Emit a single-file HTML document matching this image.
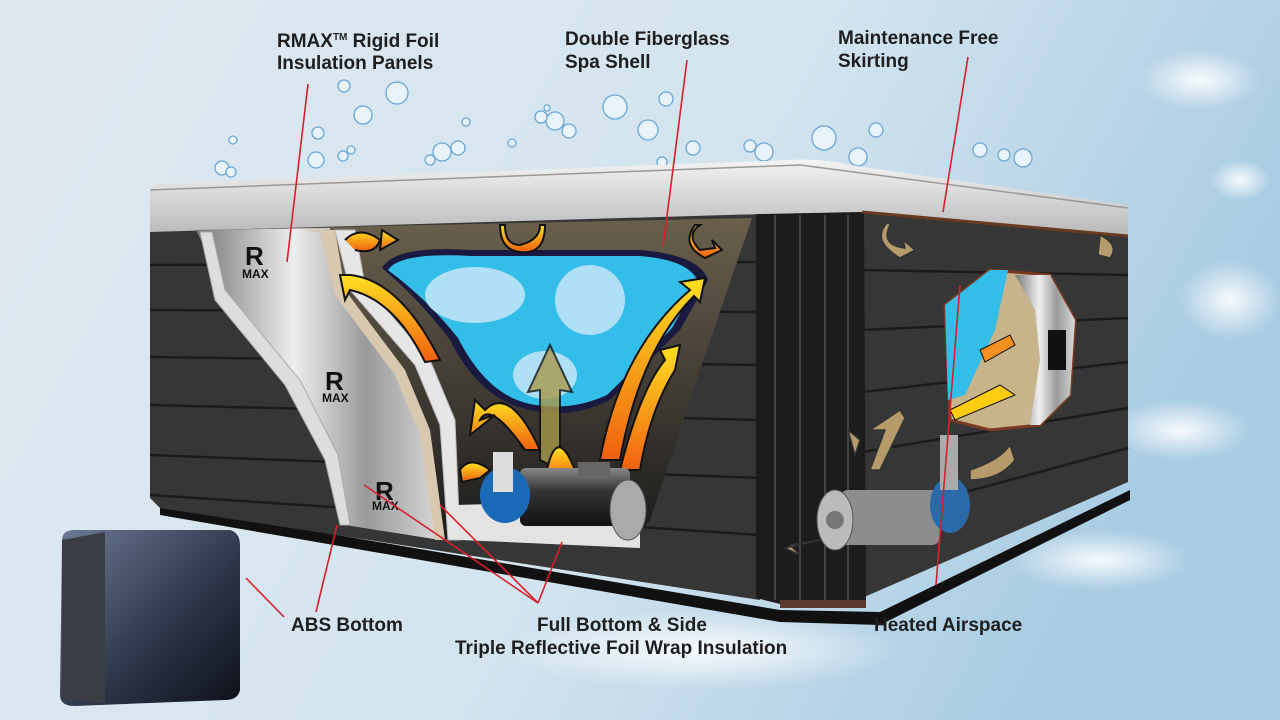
<!DOCTYPE html>
<html><head><meta charset="utf-8"><style>
html,body{margin:0;padding:0;width:1280px;height:720px;overflow:hidden}
text{font-family:"Liberation Sans",sans-serif;font-weight:bold;font-size:19px;fill:#1e1e1e}
</style></head><body>
<svg width="1280" height="720" viewBox="0 0 1280 720" xmlns="http://www.w3.org/2000/svg">
<defs>
<linearGradient id="bg" x1="0" y1="0" x2="1" y2="0.3">
<stop offset="0" stop-color="#dfe9f1"/><stop offset="0.6" stop-color="#d3e4ef"/><stop offset="1" stop-color="#a9cde3"/></linearGradient>
<radialGradient id="glow" cx="0.5" cy="0.5" r="0.5"><stop offset="0" stop-color="#fff" stop-opacity="0.9"/><stop offset="1" stop-color="#fff" stop-opacity="0"/></radialGradient>
<linearGradient id="rim" x1="0" y1="0" x2="0" y2="1"><stop offset="0" stop-color="#f4f4f4"/><stop offset="1" stop-color="#b8b8b8"/></linearGradient>
<linearGradient id="silver" x1="0" y1="0" x2="1" y2="0"><stop offset="0" stop-color="#777"/><stop offset="0.4" stop-color="#eee"/><stop offset="0.7" stop-color="#9a9a9a"/><stop offset="1" stop-color="#d8d8d8"/></linearGradient>
<linearGradient id="flame" x1="0" y1="1" x2="0" y2="0"><stop offset="0" stop-color="#f06010"/><stop offset="1" stop-color="#ffe020"/></linearGradient>
<linearGradient id="inner" x1="0" y1="0" x2="0" y2="1"><stop offset="0" stop-color="#6a604c"/><stop offset="0.6" stop-color="#3a3630"/><stop offset="1" stop-color="#1a1a1a"/></linearGradient>
<linearGradient id="box" x1="0" y1="0" x2="1" y2="1"><stop offset="0" stop-color="#6a7a94"/><stop offset="0.6" stop-color="#2a3346"/><stop offset="1" stop-color="#0d1018"/></linearGradient>
<linearGradient id="motor" x1="0" y1="0" x2="0" y2="1"><stop offset="0" stop-color="#888"/><stop offset="0.4" stop-color="#333"/><stop offset="1" stop-color="#111"/></linearGradient>
</defs>
<rect width="1280" height="720" fill="url(#bg)"/>
<g fill="url(#glow)">
<ellipse cx="1200" cy="80" rx="60" ry="30"/><ellipse cx="1230" cy="300" rx="50" ry="40"/><ellipse cx="1180" cy="430" rx="70" ry="30"/>
<ellipse cx="1100" cy="560" rx="90" ry="30"/><ellipse cx="1240" cy="180" rx="30" ry="20"/><ellipse cx="700" cy="650" rx="200" ry="40"/>
</g>
<g fill="#e8f3fb" stroke="#6aa6d6" stroke-width="1.3">
<circle cx="397" cy="93" r="11"/><circle cx="363" cy="115" r="9"/><circle cx="344" cy="86" r="6"/><circle cx="318" cy="133" r="6"/><circle cx="316" cy="160" r="8"/><circle cx="343" cy="156" r="5"/><circle cx="351" cy="150" r="4"/>
<circle cx="222" cy="168" r="7"/><circle cx="233" cy="140" r="4"/><circle cx="231" cy="172" r="5"/><circle cx="442" cy="152" r="9"/><circle cx="458" cy="148" r="7"/><circle cx="430" cy="160" r="5"/><circle cx="466" cy="122" r="4"/><circle cx="512" cy="143" r="4"/>
<circle cx="615" cy="107" r="12"/><circle cx="648" cy="130" r="10"/><circle cx="666" cy="99" r="7"/><circle cx="555" cy="121" r="9"/><circle cx="569" cy="131" r="7"/><circle cx="541" cy="117" r="6"/><circle cx="547" cy="108" r="3"/>
<circle cx="693" cy="148" r="7"/><circle cx="824" cy="138" r="12"/><circle cx="876" cy="130" r="7"/><circle cx="858" cy="157" r="9"/><circle cx="764" cy="152" r="9"/><circle cx="750" cy="146" r="6"/><circle cx="980" cy="150" r="7"/><circle cx="1004" cy="155" r="6"/><circle cx="1023" cy="158" r="9"/><circle cx="662" cy="162" r="5"/>
</g>
<path d="M160,505 L780,610 L880,612 L1130,490 L1130,500 L880,625 L780,622 L160,515Z" fill="#111"/>
<path d="M150,228 L760,214 L760,600 L160,508 L150,498Z" fill="#363636"/>
<g stroke="#1b1b1b" stroke-width="2.5">
<line x1="150" y1="265" x2="760" y2="262"/><line x1="150" y1="310" x2="760" y2="312"/><line x1="150" y1="357" x2="760" y2="365"/><line x1="150" y1="405" x2="760" y2="420"/><line x1="150" y1="455" x2="760" y2="478"/><line x1="150" y1="495" x2="760" y2="535"/>
</g>
<path d="M862,212 L1128,236 L1128,482 L862,598Z" fill="#363636"/>
<g stroke="#1b1b1b" stroke-width="2.5">
<line x1="862" y1="270" x2="1128" y2="275"/><line x1="862" y1="330" x2="1128" y2="318"/><line x1="862" y1="392" x2="1128" y2="362"/><line x1="862" y1="452" x2="1128" y2="408"/><line x1="862" y1="520" x2="1128" y2="448"/>
</g>
<path d="M756,212 L864,212 L866,602 L780,604 L756,598Z" fill="#1c1c1c"/>
<g stroke="#444" stroke-width="2"><line x1="775" y1="215" x2="775" y2="600"/><line x1="800" y1="215" x2="800" y2="602"/><line x1="825" y1="215" x2="825" y2="602"/><line x1="848" y1="215" x2="848" y2="602"/></g>
<path d="M780,600 L866,600 L866,608 L780,608Z" fill="#5a3a2a"/>
<path d="M150,190 Q150,185 160,184 L790,160 Q820,158 850,165 L1128,205 L1128,236 L860,212 L760,214 L150,232Z" fill="url(#rim)"/>
<path d="M150,190 L800,165 L1128,208" fill="none" stroke="#999" stroke-width="1.5"/>
<path d="M862,212 L1128,236" stroke="#6a3a20" stroke-width="3"/>
<path d="M196,230 L752,218 L700,370 L650,520 L630,545 L455,540 L345,525 L320,420 L235,310Z" fill="url(#inner)"/>
<path d="M196,230 L330,228 L330,260 L345,300 L395,370 L420,430 L440,540 L345,525 L320,420 L235,310Z" fill="url(#silver)"/>
<path d="M200,232 L212,232 L225,290 L300,380 L338,455 L350,525 L340,525 L325,460 L285,385 L215,300Z" fill="#ddd" stroke="#aaa"/>
<path d="M300,230 L335,230 L345,290 L405,370 L430,430 L445,540 L435,540 L420,435 L395,375 L335,295 L320,232Z" fill="#d8c8b0"/>
<path d="M335,230 L355,230 L365,285 L430,360 L455,420 L460,540 L448,540 L440,425 L415,365 L350,290Z" fill="#e6e6e6" stroke="#bbb"/>
<path d="M460,540 L455,505 L640,500 L640,548Z" fill="#e3e3e3"/>
<path d="M382,268 Q395,245 470,250 L640,250 Q700,255 708,280 L680,330 Q640,370 610,400 Q570,420 530,410 Q480,400 450,340 Q420,300 382,268Z" fill="#1a1a40"/>
<path d="M388,270 Q400,252 470,256 L640,256 Q690,260 698,282 L672,328 Q635,368 607,395 Q570,412 530,404 Q487,395 458,338 Q428,300 388,270Z" fill="#33bde9"/>
<g fill="#cfe9f8" opacity="0.8">
<ellipse cx="475" cy="295" rx="50" ry="28"/><ellipse cx="590" cy="300" rx="35" ry="35"/><ellipse cx="545" cy="375" rx="32" ry="24"/>
</g>
<g fill="url(#flame)" stroke="#111" stroke-width="2">
<path d="M540,460 L540,390 L528,392 L550,345 L572,392 L560,390 L560,470Z" fill="#a89a4a" opacity="0.8"/>
<path d="M545,480 Q555,420 575,470 L585,480Z"/>
<path d="M350,275 Q400,280 440,360 L425,362 Q395,300 350,290 L345,300 L340,275Z"/>
<path d="M525,450 Q490,400 480,420 L495,415 L470,435 L475,400 L485,410 Q510,385 540,450Z"/>
<path d="M600,460 Q620,350 690,290 L680,282 L705,278 L700,302 L694,296 Q640,350 620,460Z"/>
<path d="M620,470 Q640,390 665,360 L660,350 L680,345 L675,370 Q650,410 640,470Z"/>
<path d="M460,470 Q470,455 490,470 L480,478 L462,482Z"/>
<path d="M345,240 Q360,225 380,240 Q375,255 355,250 M382,230 L398,240 L380,250Z"/>
<path d="M505,225 Q505,245 520,245 Q540,240 540,225 L545,225 Q545,255 520,252 Q500,250 500,225Z"/>
<path d="M700,225 Q685,235 700,250 L715,248 L712,240 L722,250 L705,258 Q680,245 695,225Z"/>
</g>
<rect x="520" y="468" width="110" height="58" rx="6" fill="url(#motor)"/>
<rect x="578" y="462" width="32" height="14" fill="#666"/>
<ellipse cx="505" cy="495" rx="25" ry="28" fill="#1a6ab8"/>
<rect x="493" y="452" width="20" height="40" fill="#ddd"/>
<ellipse cx="628" cy="510" rx="18" ry="30" fill="#aaa" stroke="#555"/>
<g>
<text x="245" y="265" style="font-size:26px;fill:#111">R</text><text x="242" y="278" style="font-size:12px;fill:#111">MAX</text>
<text x="325" y="390" style="font-size:26px;fill:#111">R</text><text x="322" y="402" style="font-size:12px;fill:#111">MAX</text>
<text x="375" y="500" style="font-size:26px;fill:#111">R</text><text x="372" y="510" style="font-size:12px;fill:#111">MAX</text>
</g>
<path d="M945,305 L990,270 L1050,275 L1075,320 L1070,395 L1040,425 L990,430 L950,420Z" fill="#c7b48a" stroke="#7a3a22" stroke-width="3"/>
<path d="M945,305 L990,270 L1008,270 L995,330 L965,395 L948,400Z" fill="#33bde9"/>
<path d="M1015,275 L1050,275 L1075,320 L1070,395 L1040,425 L1030,425 L1040,360 L1035,310Z" fill="url(#silver)"/>
<path d="M950,410 L1000,385 L1015,395 L955,420Z" fill="#ffcc10" stroke="#111"/>
<path d="M980,350 L1010,335 L1015,345 L985,362Z" fill="#f59020" stroke="#111"/>
<rect x="1048" y="330" width="18" height="40" fill="#111"/>
<rect x="840" y="490" width="100" height="55" rx="8" fill="#8d8d8d"/>
<ellipse cx="835" cy="520" rx="18" ry="30" fill="#bbb" stroke="#555"/>
<circle cx="835" cy="520" r="9" fill="#777"/>
<ellipse cx="950" cy="505" rx="20" ry="28" fill="#2a6aa8"/>
<rect x="940" y="435" width="18" height="55" fill="#aaa"/>
<g fill="#b59a6a" stroke="#333" stroke-width="1.5">
<path d="M870,430 L900,410 L905,418 L880,470 L870,470 L885,430Z"/><path d="M860,440 L848,430 L855,455Z"/>
<path d="M820,540 L790,545 L800,555 L785,548Z"/>
<path d="M970,470 Q1000,460 1010,445 L1015,460 Q1000,480 970,480Z"/>
<path d="M890,225 Q880,245 905,248 L903,240 L915,250 L900,258 Q870,240 888,222Z"/>
<path d="M1100,235 Q1120,245 1110,258 L1098,255Z"/>
</g>
<path d="M62,540 Q62,530 75,530 L230,530 Q240,533 240,545 L240,690 Q238,700 225,700 L75,706 Q60,706 60,695Z" fill="url(#box)"/>
<path d="M62,540 L105,532 L105,703 L62,700Z" fill="#3a3d44"/>
<g stroke="#d8202a" stroke-width="1.6" fill="none">
<line x1="308" y1="84" x2="287" y2="262"/>
<line x1="687" y1="60" x2="663" y2="247"/>
<line x1="968" y1="57" x2="943" y2="212"/>
<line x1="960" y1="285" x2="936" y2="585"/>
<line x1="246" y1="578" x2="284" y2="617"/>
<line x1="316" y1="612" x2="337" y2="525"/>
<line x1="538" y1="603" x2="364" y2="485"/>
<line x1="538" y1="603" x2="440" y2="505"/>
<line x1="538" y1="603" x2="562" y2="542"/>
</g>
<text x="277" y="47">RMAX<tspan dy="-7" style="font-size:10px">TM</tspan><tspan dy="7"> Rigid Foil</tspan></text>
<text x="277" y="69">Insulation Panels</text>
<text x="565" y="45">Double Fiberglass</text>
<text x="565" y="68">Spa Shell</text>
<text x="838" y="44">Maintenance Free</text>
<text x="838" y="67">Skirting</text>
<text x="291" y="631">ABS Bottom</text>
<text x="537" y="631">Full Bottom &amp; Side</text>
<text x="455" y="654">Triple Reflective Foil Wrap Insulation</text>
<text x="874" y="631">Heated Airspace</text>
</svg>
</body></html>
